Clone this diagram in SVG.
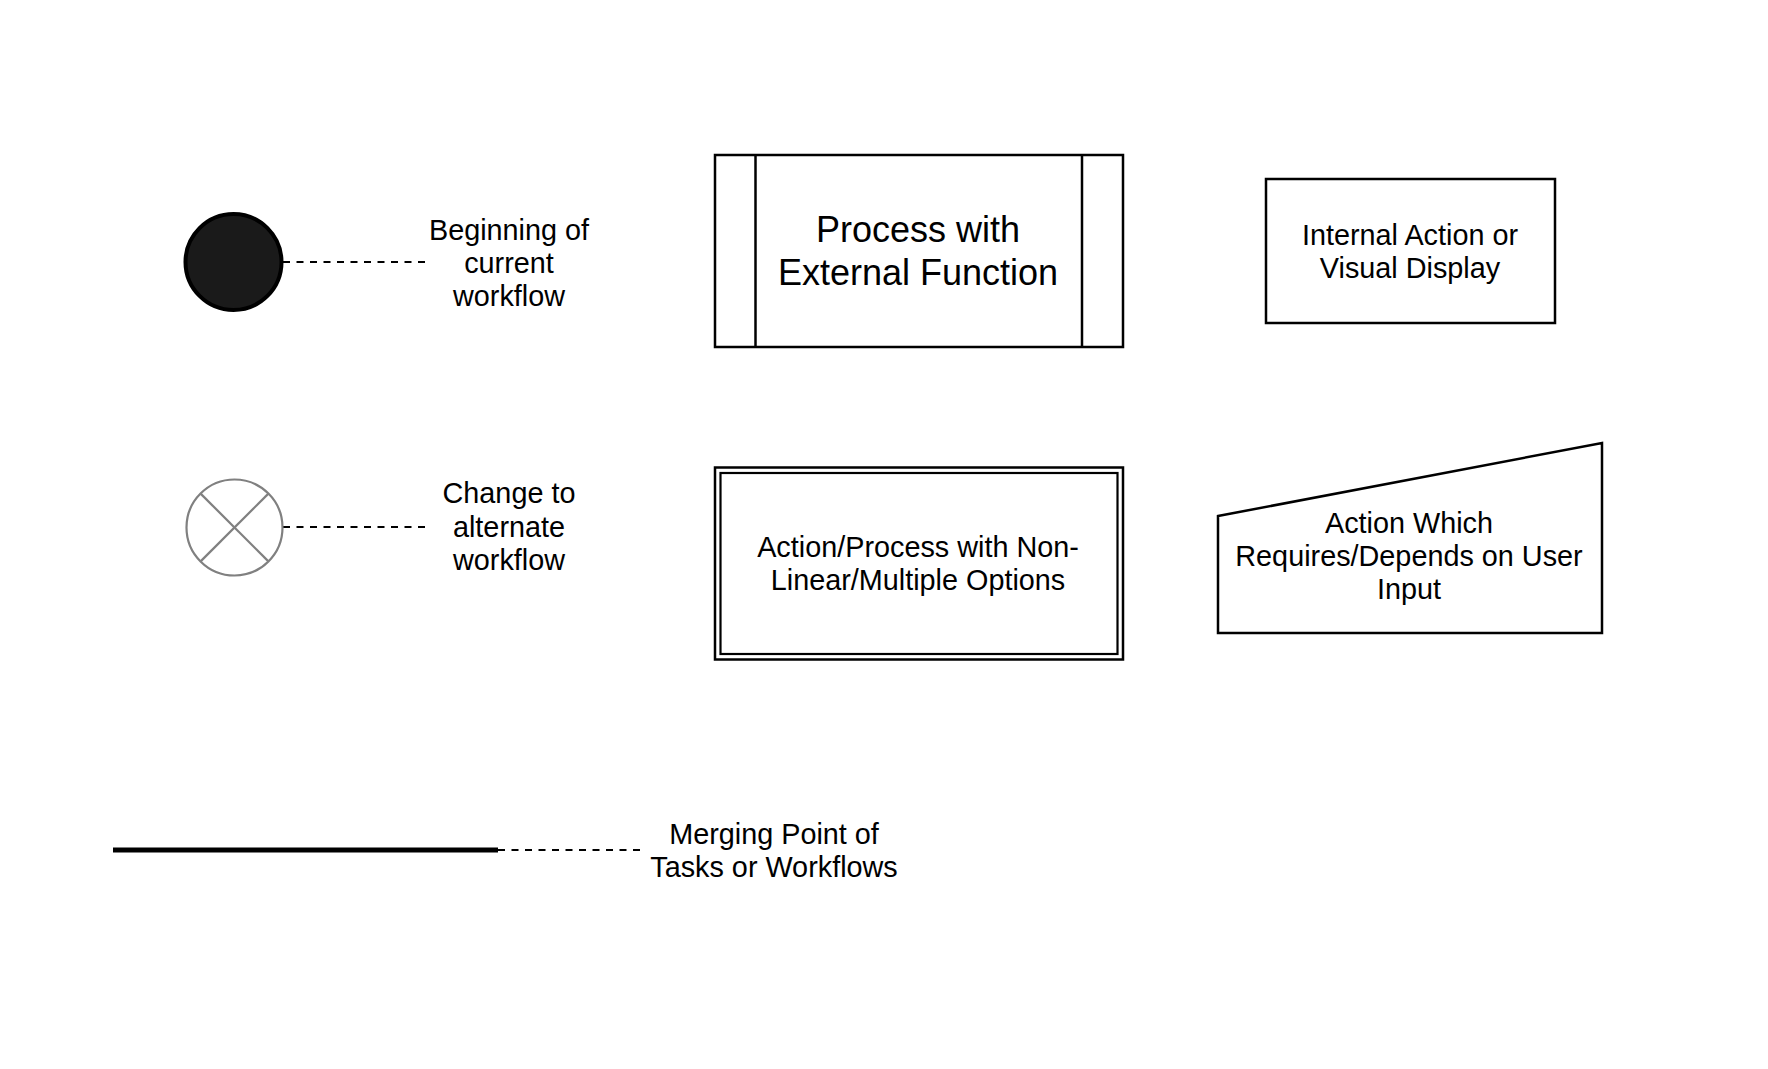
<svg xmlns="http://www.w3.org/2000/svg" width="1768" height="1069" viewBox="0 0 1768 1069">
<style>
  text { font-family: "Liberation Sans", Arial, Helvetica, sans-serif; fill: #000; text-anchor: middle; }
  .t28 { font-size: 28.8px; }
  .t36 { font-size: 36px; }
  .box { fill: #fff; stroke: #000; stroke-width: 2.5; }
  .dash { fill: none; stroke: #000; stroke-width: 2; stroke-dasharray: 7 6.5; }
</style>
<rect width="1768" height="1069" fill="#fff"/>

<g id="connectors">
  <line class="dash" x1="283" y1="262" x2="428" y2="262"/>
  <line class="dash" x1="283" y1="527" x2="429" y2="527"/>
  <line class="dash" x1="498" y1="850" x2="643" y2="850"/>
</g>

<g id="start-node">
  <circle cx="233.5" cy="262" r="48" fill="#1a1a1a" stroke="#000" stroke-width="4"/>
</g>
<g id="start-label">
  <text class="t28" x="509" y="240">Beginning of</text>
  <text class="t28" x="509" y="273">current</text>
  <text class="t28" x="509" y="306">workflow</text>
</g>

<g id="alternate-node">
  <circle cx="234.5" cy="527.5" r="48" fill="#fff" stroke="#808080" stroke-width="2.2"/>
  <line x1="200.6" y1="493.6" x2="268.4" y2="561.4" stroke="#808080" stroke-width="2.2"/>
  <line x1="268.4" y1="493.6" x2="200.6" y2="561.4" stroke="#808080" stroke-width="2.2"/>
</g>
<g id="alternate-label">
  <text class="t28" x="509" y="503">Change to</text>
  <text class="t28" x="509" y="537">alternate</text>
  <text class="t28" x="509" y="570">workflow</text>
</g>

<g id="process-external">
  <rect class="box" x="715" y="155" width="408" height="192"/>
  <line x1="755.5" y1="155" x2="755.5" y2="347" stroke="#000" stroke-width="2.5"/>
  <line x1="1082" y1="155" x2="1082" y2="347" stroke="#000" stroke-width="2.5"/>
  <text class="t36" x="918" y="242">Process with</text>
  <text class="t36" x="918" y="285">External Function</text>
</g>

<g id="internal-action">
  <rect class="box" x="1266" y="179" width="289" height="144"/>
  <text class="t28" x="1410" y="245">Internal Action or</text>
  <text class="t28" x="1410" y="278">Visual Display</text>
</g>

<g id="nonlinear-action">
  <rect class="box" x="715" y="467.5" width="408" height="192" stroke-width="2.2"/>
  <rect fill="none" stroke="#000" stroke-width="2.2" x="720.5" y="473" width="397" height="181"/>
  <text class="t28" x="918" y="557">Action/Process with Non-</text>
  <text class="t28" x="918" y="590">Linear/Multiple Options</text>
</g>

<g id="user-input-action">
  <polygon class="box" points="1218,516 1602,443 1602,633 1218,633"/>
  <text class="t28" x="1409" y="533">Action Which</text>
  <text class="t28" x="1409" y="566">Requires/Depends on User</text>
  <text class="t28" x="1409" y="599">Input</text>
</g>

<g id="merge-node">
  <line x1="113" y1="850" x2="498" y2="850" stroke="#000" stroke-width="5"/>
</g>
<g id="merge-label">
  <text class="t28" x="774" y="844">Merging Point of</text>
  <text class="t28" x="774" y="877">Tasks or Workflows</text>
</g>
</svg>
